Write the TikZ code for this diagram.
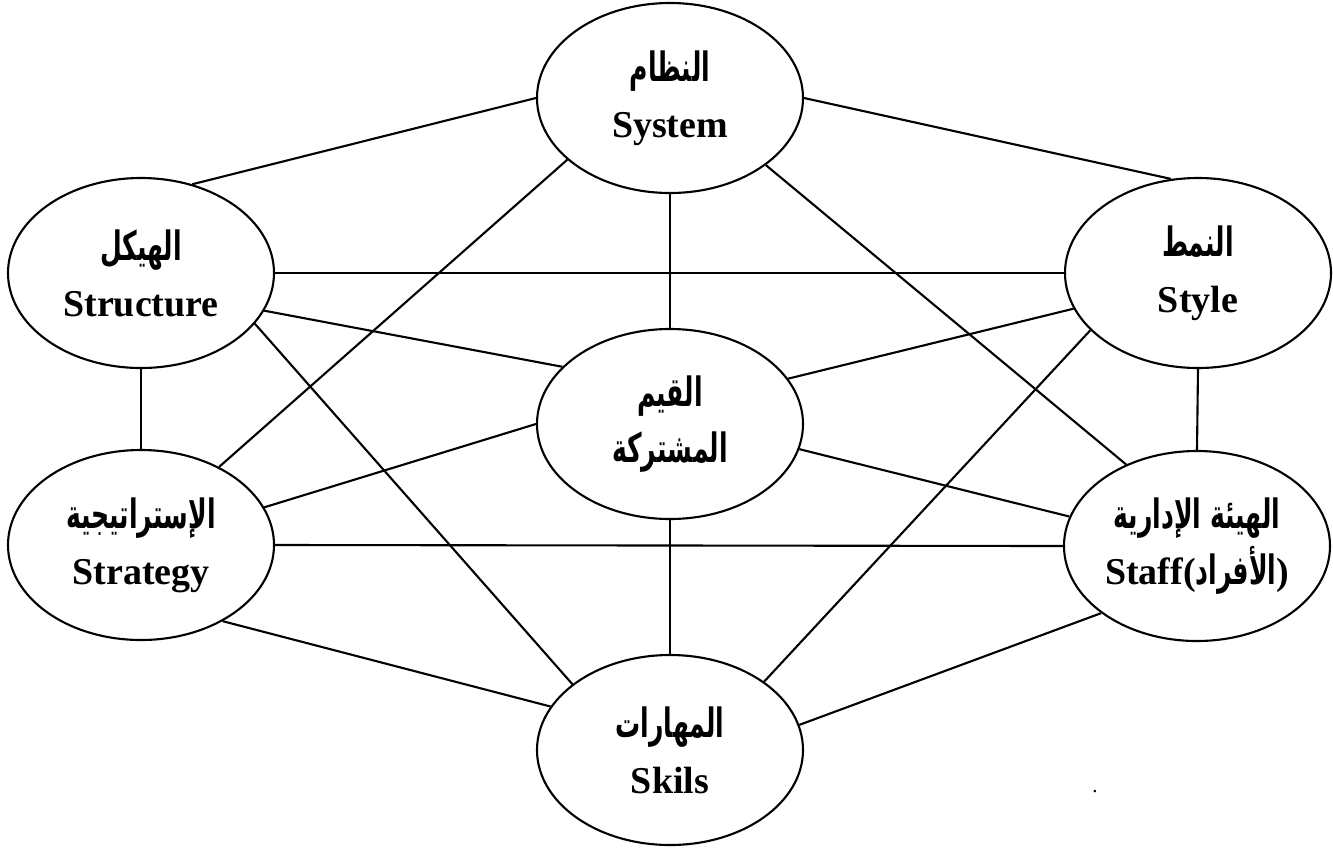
\documentclass[tikz,border=0pt]{standalone}
\usepackage{fontspec}
\setmainfont{Liberation Serif}
\newfontfamily\arabicfont[Script=Arabic,FakeStretch=0.62]{DejaVu Sans}
\TeXXeTstate=1
\usepackage{tikz}
\usetikzlibrary{shapes.geometric}

\newcommand{\artxt}[1]{{\arabicfont\bfseries\fontsize{11.5}{16}\selectfont\beginR #1\endR}}

\tikzset{
	elem/.style={shape=ellipse,draw=black,line width=0.6pt,minimum width=2.66cm,minimum height=1.9cm,inner xsep=-0.4cm,inner ysep=-0.3cm,align=center,font=\bfseries\fontsize{10.8}{16}\selectfont},
	link/.style={-,draw=black,line width=0.6pt}
}

\begin{document}
\begin{tikzpicture}
	\useasboundingbox (0,0) rectangle (13.33,-8.51);

	\node[elem] (sys)    at (6.70, -0.98)  {\artxt{النظام}\\System};
	\node[elem] (struc)  at (1.41, -2.73)  {\artxt{الهيكل}\\Structure};
	\node[elem] (sty)    at (11.98, -2.73) {\artxt{النمط}\\Style};
	\node[elem] (shared) at (6.70, -4.24)  {\artxt{القيم}\\\artxt{المشتركة}};
	\node[elem] (strat)  at (1.41, -5.45)  {\artxt{الإستراتيجية}\\Strategy};
	\node[elem] (staff)  at (11.97, -5.46) {\artxt{الهيئة الإدارية}\\Staff(\artxt{الأفراد})};
	\node[elem] (skills) at (6.70, -7.50)  {\artxt{المهارات}\\Skils};
	\node[inner sep=0pt,font=\fontsize{6}{6}\selectfont] (dot) at (10.95, -7.92) {.};

	\path[link] (sys.180)    edge (struc.60);
	\path[link] (sys.0)      edge (sty.106);
	\path[link] (sys.south)  edge (shared.north);
	\path[link] (sys.211)    edge (strat.45);
	\path[link] (sys.-35)    edge (staff.131);
	\path[link] (struc.east) edge (sty.west);
	\path[link] (struc.-17)  edge (shared.152);
	\path[link] (struc.south) edge (strat.north);
	\path[link] (struc.-24)  edge (skills.146);
	\path[link] (sty.196)    edge (shared.21);
	\path[link] (sty.south)  edge (staff.north);
	\path[link] (sty.208)    edge (skills.36);
	\path[link] (shared.180) edge (strat.17);
	\path[link] (shared.-11) edge (staff.167);
	\path[link] (shared.south) edge (skills.north);
	\path[link] (strat.east) edge (staff.west);
	\path[link] (strat.-43)  edge (skills.160);
	\path[link] (staff.215)  edge (skills.11);

\end{tikzpicture}
\end{document}
